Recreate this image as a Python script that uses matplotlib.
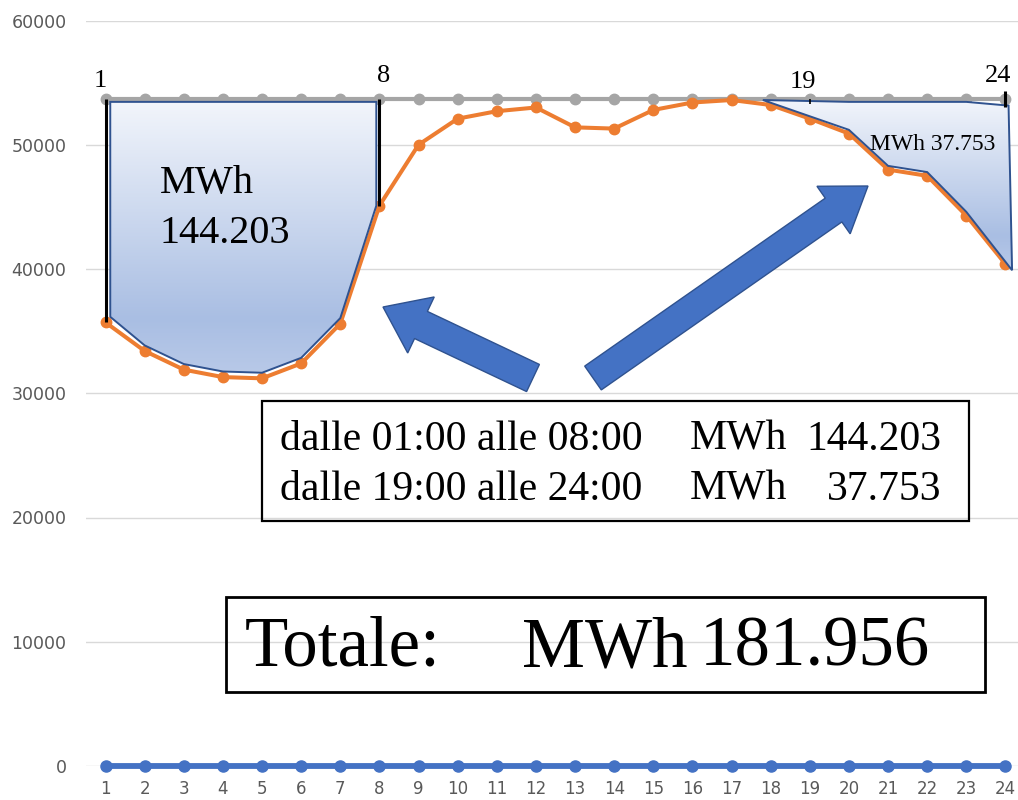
"""Hourly load profile with the night-time energy bands shaded and summed."""

import matplotlib.pyplot as plt
import numpy as np
from matplotlib.colors import LinearSegmentedColormap
from matplotlib.patches import FancyArrow, Polygon, Rectangle

hours = list(range(1, 25))
reference_level = [53700, 53700, 53700, 53700, 53700, 53700, 53700, 53700,
                   53700, 53700, 53700, 53700, 53700, 53700, 53700, 53700,
                   53700, 53700, 53700, 53700, 53700, 53700, 53700, 53700]
load = [35700, 33400, 31900, 31300, 31200, 32400, 35600, 45100,
        50000, 52100, 52700, 53000, 51400, 51300, 52800, 53400,
        53600, 53200, 52100, 50900, 48000, 47500, 44300, 40400]
baseline = [0, 0, 0, 0, 0, 0, 0, 0, 0, 0, 0, 0,
            0, 0, 0, 0, 0, 0, 0, 0, 0, 0, 0, 0]

night_hours = [1, 2, 3, 4, 5, 6, 7, 8]
evening_hours = [19, 20, 21, 22, 23, 24]
marked_hours = [1, 8, 19, 24]

night_label = ("MWh", "144.203")
evening_label = "MWh 37.753"
summary_rows = [("dalle 01:00 alle 08:00", "MWh", "144.203"),
                ("dalle 19:00 alle 24:00", "MWh", "37.753")]
total_row = ("Totale:", "MWh", "181.956")

GRAY = "#A5A5A5"
ORANGE = "#ED7D31"
BLUE = "#4472C4"
EDGE = "#2F528F"
SERIF = ["Liberation Serif", "DejaVu Serif"]

shade = LinearSegmentedColormap.from_list(
    "shade", [(0.0, "#F2F5FB"), (0.8, "#A9BEE3"), (1.0, "#B8C9E8")]
)

fig = plt.figure(figsize=(10.18, 8), dpi=100)
ax = fig.add_axes([86 / 1018, 34 / 800, 939 / 1018, 745.5 / 800])

ax.plot(hours, baseline, color=BLUE, lw=4.2, marker="o", ms=8, zorder=3, clip_on=False)
ax.plot(hours, reference_level, color=GRAY, lw=3, marker="o", ms=7.5, zorder=3)
ax.plot(hours, load, color=ORANGE, lw=2.9, marker="o", ms=7.5, zorder=3)

ax.set_xlim(0.5, 24.5)
ax.set_ylim(0, 60000)
ax.set_xticks(hours)
ax.set_yticks(range(0, 60001, 10000))
ax.tick_params(length=0, labelcolor="#595959")
ax.tick_params(axis="x", pad=10, labelsize=12)
ax.tick_params(axis="y", pad=14, labelsize=12.5)
ax.grid(axis="y", color="#D9D9D9", lw=1)
ax.set_axisbelow(True)
for spine in ax.spines.values():
    spine.set_visible(False)


def shaded_band(xs, ys):
    """Outline a region and fill it with a top-down gradient."""
    poly = Polygon(np.column_stack([xs, ys]), closed=True, fc="none",
                   ec=EDGE, lw=1.4, zorder=6)
    ax.add_patch(poly)
    grad = np.linspace(0, 1, 256).reshape(-1, 1)
    img = ax.imshow(grad, cmap=shade, aspect="auto", origin="upper",
                    extent=[min(xs), max(xs), min(ys), max(ys)],
                    interpolation="bicubic", zorder=5)
    img.set_clip_path(poly)


# night band: top on the reference level, bottom hugging the load curve
n_idx = [h - 1 for h in night_hours]
top_x = [h for h in night_hours]
top_x[0] += 0.12
top_x[-1] -= 0.08
top_y = [reference_level[i] - 250 for i in n_idx]
bot_x = top_x[::-1]
bot_y = [load[i] + 450 for i in n_idx][::-1]
bot_y[0] = load[n_idx[-1]]
shaded_band(top_x + bot_x, top_y + bot_y)

# evening band
e_idx = [h - 1 for h in evening_hours]
top_x = [evening_hours[0] - 1.2] + evening_hours[1:]
top_x[-1] += 0.08
top_y = [reference_level[e_idx[0]] - 100] + [reference_level[i] - 250 for i in e_idx[1:]]
top_y[-1] -= 300
bot_x = [h for h in evening_hours[1:]][::-1]
bot_x[0] += 0.17
bot_y = [load[i] + 300 for i in e_idx[1:]][::-1]
bot_y[0] = load[-1] - 500
shaded_band(top_x + bot_x, top_y + bot_y)

# hour markers on the reference level
ax.vlines([1, 8], [load[0], load[7]], [reference_level[0], reference_level[7]],
          color="black", lw=2.2, zorder=7)
ax.vlines([19], reference_level[18] - 400, reference_level[18], color="black", lw=1.2, zorder=7)
ax.vlines([24], reference_level[23] - 700, reference_level[23] + 600, color="black", lw=2.2, zorder=7)
label_offsets = {1: (-4, 8.3), 8: (3.2, 11.9), 19: (-5, 7.6), 24: (-5, 11.9)}
for h in marked_hours:
    dx, dy = label_offsets[h]
    ax.annotate(str(h), (h, reference_level[h - 1]), xytext=(dx, dy),
                textcoords="offset points", ha="center", va="baseline",
                fontsize=19, family=SERIF, zorder=8)

ax.text(2.39, 46130, night_label[0], fontsize=29, family=SERIF, va="baseline", zorder=8)
ax.text(2.39, 42110, night_label[1], fontsize=29, family=SERIF, va="baseline", zorder=8)
ax.text(20.54, 49600, evening_label, fontsize=17, family=SERIF, va="baseline", zorder=8)

# annotation layer in pixel units
ov = fig.add_axes([0, 0, 1, 1])
ov.set_xlim(0, 1018)
ov.set_ylim(800, 0)
ov.set_axis_off()

for x0, y0, dx, dy, w, hw in [(533, 378, -150, -71, 30, 62), (593, 378, 275, -192, 29, 58)]:
    ov.add_patch(FancyArrow(x0, y0, dx, dy, width=w, head_width=hw, head_length=42,
                            length_includes_head=True, fc=BLUE, ec=EDGE, lw=1))

ov.add_patch(Rectangle((262, 401), 707, 120, fill=False, ec="black", lw=1.6))
for (span, unit, value), y in zip(summary_rows, [450, 500]):
    ov.text(280, y, span, fontsize=30, family=SERIF, va="baseline")
    ov.text(690, y, unit, fontsize=30, family=SERIF, va="baseline")
    ov.text(941, y, value, fontsize=30, family=SERIF, va="baseline", ha="right")

ov.add_patch(Rectangle((226, 597), 759, 95, fill=False, ec="black", lw=2))
ov.text(245, 666, total_row[0], fontsize=51, family=SERIF, va="baseline")
ov.text(522, 666, total_row[1], fontsize=51, family=SERIF, va="baseline")
ov.text(930, 666, total_row[2], fontsize=51, family=SERIF, va="baseline", ha="right")

fig.savefig("out.png", dpi=100)
